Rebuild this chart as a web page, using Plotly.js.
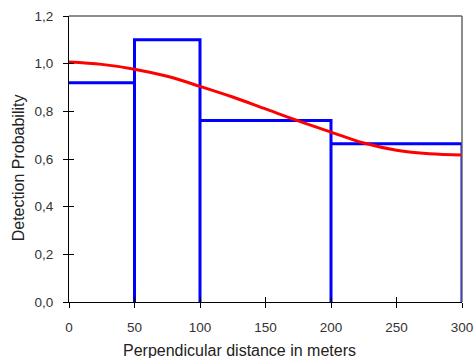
<!DOCTYPE html>
<html>
<head>
<meta charset="utf-8">
<script src="https://cdn.plot.ly/plotly-3.0.1.min.js"></script>
<style>
  html, body { margin: 0; padding: 0; background: #ffffff; }
  #chart { width: 476px; height: 358px; }
</style>
</head>
<body>
<div id="chart"></div>
<script>
// Histogram of scaled detection frequencies per distance class
const binEdges = [0, 50, 100, 200, 300];
const binHeights = [0.92, 1.10, 0.762, 0.664];

// Fitted detection function
const fitDistance = [0, 25, 50, 75, 100, 125, 150, 175, 200, 225, 250, 275, 300];
const fitProbability = [1.007, 0.997, 0.977, 0.947, 0.905, 0.86, 0.81, 0.76, 0.713, 0.667, 0.637, 0.622, 0.617];

const xTicks = [0, 50, 100, 150, 200, 250, 300];
const xTickText = ['0', '50', '100', '150', '200', '250', '300'];
const yTicks = [0, 0.2, 0.4, 0.6, 0.8, 1.0, 1.2];
const yTickText = ['0,0', '0,2', '0,4', '0,6', '0,8', '1,0', '1,2'];

const xTitle = 'Perpendicular distance in meters';
const yTitle = 'Detection Probability';

// Outline of the histogram: tops plus the dividing verticals down to zero
const histX = [binEdges[0]];
const histY = [binHeights[0]];
for (let i = 0; i < binHeights.length; i++) {
  if (i > 0) {
    histX.push(binEdges[i]);
    histY.push(binHeights[i]);
  }
  histX.push(binEdges[i + 1]);
  histY.push(binHeights[i]);
  histX.push(binEdges[i + 1]);
  histY.push(0);
}

const tickFont = { family: 'Liberation Sans, Arial, sans-serif', size: 13.5, color: '#333333' };
const titleFont = { family: 'Liberation Sans, Arial, sans-serif', size: 16, color: '#222222' };

const traces = [
  {
    x: histX, y: histY, type: 'scatter', mode: 'lines',
    line: { color: '#0000ff', width: 3, shape: 'linear' },
    hoverinfo: 'skip', xaxis: 'x', yaxis: 'y'
  },
  {
    x: fitDistance, y: fitProbability, type: 'scatter', mode: 'lines',
    line: { color: '#ff0000', width: 3, shape: 'spline', smoothing: 1 },
    hoverinfo: 'skip', xaxis: 'x2', yaxis: 'y2'
  }
];

const baseX = {
  range: [0, 300], tickmode: 'array', tickvals: xTicks, ticktext: xTickText,
  showgrid: false, zeroline: false, fixedrange: true
};
const baseY = {
  range: [0, 1.2], tickmode: 'array', tickvals: yTicks, ticktext: yTickText,
  showgrid: false, zeroline: false, fixedrange: true
};

const layout = {
  width: 476, height: 358,
  margin: { l: 69, r: 14, t: 16, b: 56 },
  paper_bgcolor: '#ffffff', plot_bgcolor: '#ffffff',
  showlegend: false,
  font: tickFont,
  xaxis: Object.assign({}, baseX, {
    showline: true, linecolor: '#000000', linewidth: 1,
    ticks: 'outside', ticklen: 5, tickcolor: '#000000', tickwidth: 1,
    ticklabelstandoff: 8, tickfont: tickFont
  }),
  yaxis: Object.assign({}, baseY, {
    showline: true, linecolor: '#000000', linewidth: 1,
    ticks: 'outside', ticklen: 5, tickcolor: '#000000', tickwidth: 1,
    ticklabelstandoff: 7, tickfont: tickFont
  }),
  // Overlay axes carry the inward half of the crossing tick marks
  xaxis2: Object.assign({}, baseX, {
    overlaying: 'x', matches: 'x', showline: false, showticklabels: false,
    ticks: 'inside', ticklen: 5, tickcolor: '#000000', tickwidth: 1
  }),
  yaxis2: Object.assign({}, baseY, {
    overlaying: 'y', matches: 'y', showline: false, showticklabels: false,
    ticks: 'inside', ticklen: 5, tickcolor: '#000000', tickwidth: 1
  }),
  annotations: [
    { text: xTitle, xref: 'paper', yref: 'paper', x: 0.435, y: -0.168,
      xanchor: 'center', yanchor: 'middle', showarrow: false, font: titleFont },
    { text: yTitle, xref: 'paper', yref: 'paper', x: -0.128, y: 0.47,
      xanchor: 'center', yanchor: 'middle', textangle: -90, showarrow: false, font: titleFont }
  ],
  shapes: [
    { type: 'line', xref: 'paper', yref: 'paper', x0: 0, x1: 1, y0: 1, y1: 1,
      line: { color: '#666666', width: 1.5 } },
    { type: 'line', xref: 'paper', yref: 'paper', x0: 1, x1: 1, y0: 0, y1: 1,
      line: { color: '#666666', width: 1.5 } }
  ]
};

Plotly.newPlot('chart', traces, layout, { staticPlot: true, displayModeBar: false });
</script>
</body>
</html>
